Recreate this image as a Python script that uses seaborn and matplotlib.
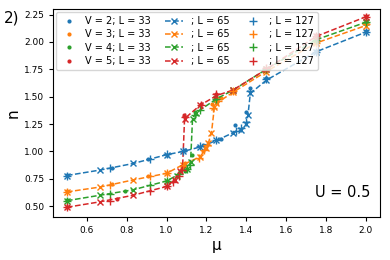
import numpy as np
import pandas as pd
import matplotlib
matplotlib.use("Agg")
import matplotlib.pyplot as plt
import seaborn as sns

# density n vs chemical potential mu, U = 0.5
V_values = [2, 3, 4, 5]
colors = sns.color_palette("tab10", 4)

# L = 33 (dots)
mu_33 = {
    2: [0.5, 0.727, 0.909, 1.0, 1.091, 1.182, 1.273, 1.345, 1.40, 1.42, 1.5, 1.75, 2.0],
    3: [0.5, 0.727, 0.909, 1.0, 1.091, 1.182, 1.23, 1.273, 1.5, 1.75, 2.0],
    4: [0.5, 0.79, 1.0, 1.091, 1.125, 1.14, 1.25, 1.5, 1.75, 2.0],
    5: [0.5, 0.75, 1.0, 1.06, 1.085, 1.17, 1.25, 1.5, 1.75, 2.0],
}
n_33 = {
    2: [0.785, 0.848, 0.93, 0.97, 1.01, 1.055, 1.11, 1.24, 1.36, 1.58, 1.67, 1.92, 2.10],
    3: [0.635, 0.70, 0.78, 0.80, 0.89, 1.00, 1.43, 1.49, 1.74, 2.0, 2.16],
    4: [0.555, 0.636, 0.73, 0.82, 0.963, 1.36, 1.49, 1.75, 2.02, 2.19],
    5: [0.49, 0.568, 0.685, 0.80, 1.33, 1.43, 1.52, 1.755, 2.06, 2.24],
}

# L = 65 (dashed line, x markers)
mu_65 = {
    2: [0.5, 0.667, 0.833, 1.0, 1.083, 1.167, 1.25, 1.333, 1.375, 1.40, 1.408, 1.42, 1.5, 1.75, 2.0],
    3: [0.5, 0.667, 0.833, 1.0, 1.083, 1.167, 1.20, 1.21, 1.225, 1.24, 1.25, 1.333, 1.5, 1.75, 2.0],
    4: [0.5, 0.667, 0.833, 1.0, 1.05, 1.10, 1.12, 1.13, 1.145, 1.25, 1.333, 1.5, 1.75, 2.0],
    5: [0.5, 0.667, 0.833, 1.0, 1.04, 1.065, 1.08, 1.09, 1.167, 1.25, 1.333, 1.5, 1.75, 2.0],
}
n_65 = {
    2: [0.78, 0.83, 0.89, 0.97, 1.00, 1.04, 1.10, 1.17, 1.20, 1.25, 1.33, 1.53, 1.65, 1.91, 2.09],
    3: [0.63, 0.675, 0.74, 0.80, 0.88, 0.95, 1.03, 1.08, 1.17, 1.41, 1.44, 1.54, 1.73, 1.99, 2.15],
    4: [0.55, 0.60, 0.65, 0.73, 0.78, 0.84, 0.90, 1.30, 1.35, 1.48, 1.56, 1.75, 2.02, 2.18],
    5: [0.49, 0.54, 0.60, 0.68, 0.74, 0.82, 0.85, 1.30, 1.42, 1.51, 1.56, 1.75, 2.05, 2.23],
}

# L = 127 (+ markers)
mu_127 = {
    2: [0.5, 0.714, 0.917, 1.0, 1.083, 1.167, 1.25, 1.35, 1.375, 1.40, 1.417, 1.5, 1.75, 2.0],
    3: [0.5, 0.714, 0.917, 1.0, 1.083, 1.16, 1.19, 1.205, 1.235, 1.26, 1.333, 1.5, 1.75, 2.0],
    4: [0.5, 0.714, 0.917, 1.0, 1.06, 1.10, 1.115, 1.14, 1.167, 1.25, 1.5, 1.75, 2.0],
    5: [0.5, 0.714, 0.917, 1.0, 1.03, 1.06, 1.075, 1.09, 1.17, 1.25, 1.5, 1.75, 2.0],
}
n_127 = {
    2: [0.78, 0.845, 0.935, 0.975, 1.00, 1.045, 1.10, 1.19, 1.21, 1.27, 1.55, 1.66, 1.91, 2.09],
    3: [0.63, 0.69, 0.78, 0.80, 0.87, 0.94, 1.01, 1.06, 1.40, 1.46, 1.55, 1.74, 1.99, 2.16],
    4: [0.55, 0.61, 0.69, 0.73, 0.79, 0.84, 0.88, 1.33, 1.38, 1.48, 1.75, 2.02, 2.18],
    5: [0.49, 0.55, 0.64, 0.68, 0.72, 0.78, 0.83, 1.31, 1.42, 1.52, 1.76, 2.05, 2.23],
}

fig, ax = plt.subplots(figsize=(3.9, 2.6), dpi=100)
fig.subplots_adjust(left=0.136, right=0.974, top=0.965, bottom=0.165)

for V, c in zip(V_values, colors):
    sns.lineplot(x=mu_33[V], y=n_33[V], ax=ax, color=c, marker='.', linestyle='none',
                 markersize=6, markeredgewidth=0, markeredgecolor=c,
                 estimator=None, label=f"V = {V}; L = 33")
for V, c in zip(V_values, colors):
    sns.lineplot(x=mu_65[V], y=n_65[V], ax=ax, color=c, marker='x', linestyle='--',
                 markersize=5, markeredgewidth=1.0, markeredgecolor=c,
                 linewidth=1.1, estimator=None, label="; L = 65")
for V, c in zip(V_values, colors):
    sns.lineplot(x=mu_127[V], y=n_127[V], ax=ax, color=c, marker='+', linestyle='none',
                 markersize=6, markeredgewidth=1.0, markeredgecolor=c,
                 estimator=None, label="; L = 127")

ax.set_xlim(0.43, 2.07)
ax.set_ylim(0.40, 2.30)
ax.set_xticks([0.6, 0.8, 1.0, 1.2, 1.4, 1.6, 1.8, 2.0])
ax.set_yticks([0.5, 0.75, 1.0, 1.25, 1.5, 1.75, 2.0, 2.25])
ax.tick_params(labelsize=6.5, length=3)
ax.set_xlabel("μ", fontsize=11, labelpad=2)
ax.set_ylabel("n", fontsize=11, labelpad=2)

ax.legend(loc="upper left", ncol=3, fontsize=7, handlelength=1.8,
          columnspacing=1.5, handletextpad=0.8, labelspacing=0.35,
          borderaxespad=0.3)
ax.text(0.97, 0.12, "U = 0.5", transform=ax.transAxes, ha="right", va="center", fontsize=10.5)
fig.text(0.01, 0.93, "2)", fontsize=11, ha="left", va="center")

fig.savefig("out.png", dpi=100)
